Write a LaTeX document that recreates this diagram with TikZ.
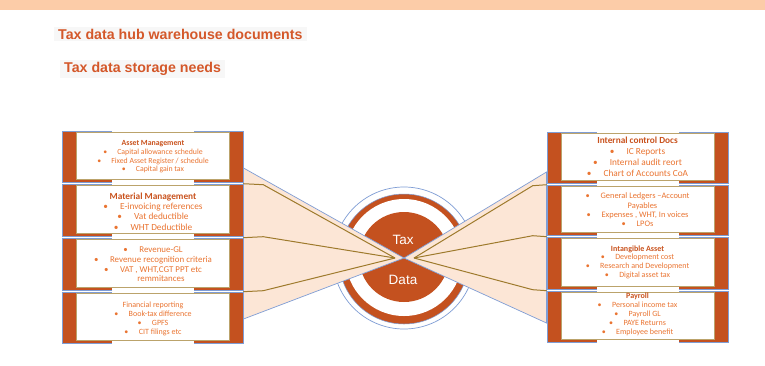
\documentclass[tikz,border=0pt]{standalone}
\usepackage{fontspec}
\setmainfont{Carlito}
\newfontfamily\arialf{Liberation Sans}
\usetikzlibrary{calc}
\definecolor{boxor}{HTML}{C4511F}
\definecolor{hdor}{HTML}{C9521D}
\definecolor{txtor}{HTML}{EA7431}
\definecolor{edgeblue}{HTML}{7F9DD5}
\definecolor{peach}{HTML}{FCE6D6}
\definecolor{goldc}{HTML}{9E7A2C}
\definecolor{tanc}{HTML}{BBA36B}
\definecolor{bandc}{HTML}{FCCCA8}
\definecolor{titlec}{HTML}{D4582A}
\definecolor{titlebg}{HTML}{F7F7F7}
\newcommand{\tdb}{\textbullet\hspace{1.3em}}
\newcommand{\tdhd}[1]{{\bfseries\color{hdor}#1}}
% #1 name, #2 centre x, #3 top, #4 bottom
\newcommand{\tdbox}[4]{%
  \node[outerbox, minimum width=181, minimum height={#4-#3}] (#1) at (#2,{(#3+#4)/2}) {};
  \path[innerbox] ($(#1.north west)+(15,2)$) rectangle ($(#1.south east)+(-14,-2.5)$);
  \fill[white] ($(#1.north)+(-41,-0.8)$) rectangle ($(#1.north)+(41,1.7)$);
  \fill[white] ($(#1.south)+(-41,-2.2)$) rectangle ($(#1.south)+(41,0.8)$);
}
\begin{document}
\begin{tikzpicture}[x=1pt,y=-1pt,
  outerbox/.style={draw=edgeblue, line width=0.6pt, fill=boxor, inner sep=0pt},
  innerbox/.style={draw=tanc, line width=0.7pt, fill=white},
  boxtext/.style={text=txtor, align=center, inner sep=0pt},
  fan/.style={fill=peach, draw=edgeblue, line width=0.7pt, line join=miter},
  gold/.style={draw=goldc, line width=1pt},
  title/.style={text=titlec, font=\arialf\bfseries\fontsize{14.2}{16}\selectfont, anchor=west, fill=titlebg, inner xsep=4pt, inner ysep=2pt},
  hubtext/.style={text=white, font=\arialf\fontsize{13.5}{15}\selectfont, inner sep=0pt}]
\useasboundingbox (0,0) rectangle (765,365);
\fill[white] (0,0) rectangle (765,365);
\fill[bandc] (0,0) rectangle (765,10);

\node[title] (t1) at (54,34) {Tax data hub warehouse documents};
\node[title] (t2) at (60,69) {Tax data storage needs};

% hub circles
\coordinate (hub) at (404,258);
\draw[edgeblue, line width=0.7pt] (404,258) circle (71pt);
\path[fill=boxor, draw=edgeblue, line width=0.5pt] (404,259) circle (65pt);
\fill[white] (404,257.5) circle (58.5pt);
\fill[boxor] (404,257) circle (45pt);

% fans
\path[fan] (243.5,168) -- (hub) -- (243.5,319) -- cycle;
\path[fan] (546.5,172) -- (hub) -- (546.5,323) -- cycle;

\node[hubtext] (tax) at (403,240) {Tax};
\node[hubtext] (data) at (403,280) {Data};

% boxes
\tdbox{L1}{152.5}{131}{182}
\tdbox{L2}{152.5}{184}{236}
\tdbox{L3}{152.5}{238}{290}
\tdbox{L4}{152.5}{292}{343}
\tdbox{R1}{637.5}{132}{183}
\tdbox{R2}{637.5}{185}{235}
\tdbox{R3}{637.5}{237}{289}
\tdbox{R4}{637.5}{291}{342}

% gold connectors
\coordinate (hubL) at (395,258);
\coordinate (hubR) at (414,258);
\draw[gold] (L2.north east) -- ++(20,1) -- (hubL);
\draw[gold] (L3.north east) -- ++(20,-1) -- (hubL);
\draw[gold] (L4.north east) -- ++(20,-1) -- (hubL);
\draw[gold] (R2.north west) -- ++(-14,1) -- (hubR);
\draw[gold] (R3.north west) -- ++(-14,-1) -- (hubR);
\draw[gold] (R4.north west) -- ++(-14,-1) -- (hubR);

% texts
\node[boxtext, font=\fontsize{7.8}{8.7}\selectfont] (L1t) at (153,157)
  {\tdhd{Asset Management}\\ \tdb Capital allowance schedule\\ \tdb Fixed Asset Register / schedule\\ \tdb Capital gain tax};
\node[boxtext, font=\fontsize{9.3}{10.3}\selectfont] (L2t) at (153,211.5)
  {\tdhd{Material Management}\\ \tdb E-invoicing references\\ \tdb Vat deductible\\ \tdb WHT Deductible};
\node[boxtext, font=\fontsize{8.9}{9.7}\selectfont] (L3t) at (153,264.5)
  {\tdb Revenue-GL\\ \tdb Revenue recognition criteria\\ \tdb VAT , WHT,CGT PPT etc\\ \hphantom{\textbullet}\hspace{1.3em}remmitances};
\node[boxtext, font=\fontsize{8}{9}\selectfont] (L4t) at (153,318.5)
  {Financial reporting\\ \tdb Book-tax difference\\ \tdb GPFS\\ \tdb CIT filings etc};

\node[boxtext, font=\fontsize{9.3}{11}\selectfont] (R1t) at (637.5,156.5)
  {\tdhd{Internal control Docs}\\ \tdb IC Reports\\ \tdb Internal audit reort\\ \tdb Chart of Accounts CoA};
\node[boxtext, font=\fontsize{8.4}{9.3}\selectfont] (R2t) at (637.5,210)
  {\tdb General Ledgers –Account\\ \hspace{10pt}Payables\\ \tdb Expenses , WHT, In voices\\ \tdb LPOs};
\node[boxtext, font=\fontsize{8}{8.7}\selectfont] (R3t) at (637.5,262)
  {\tdhd{Intangible Asset}\\ \tdb Development cost\\ \tdb Research and Development\\ \tdb Digital asset tax};
\node[boxtext, font=\fontsize{8}{9}\selectfont] (R4t) at (637.5,314)
  {\tdhd{Payroll}\\ \tdb Personal income tax\\ \tdb Payroll GL\\ \tdb PAYE Returns\\ \tdb Employee benefit};
\end{tikzpicture}
\end{document}
